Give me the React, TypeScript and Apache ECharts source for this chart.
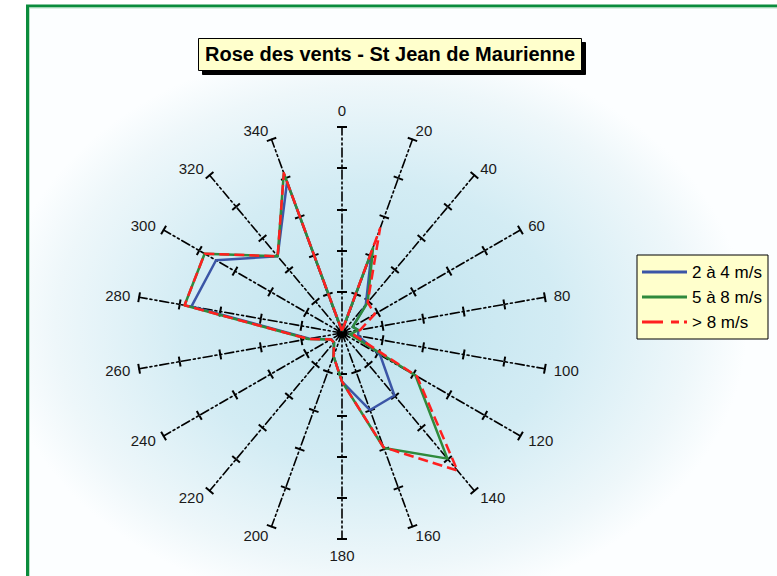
import React, { useEffect, useRef } from "react";
import * as echarts from "echarts";

// Wind directions in degrees, clockwise from north
const directions = [0, 20, 40, 60, 80, 100, 120, 140, 160, 180, 200, 220, 240, 260, 280, 300, 320, 340];
const seriesNames = ["2 à 4 m/s", "5 à 8 m/s", "> 8 m/s"];

// Frequencies per direction (same order as directions)
const speed2to4 = [0.05, 2.1, 0.9, 0.3, 0.4, 0.4, 1.07, 1.98, 1.99, 1.18, 0.6, 0.3, 0.3, 0.8, 3.71, 3.53, 2.43, 3.9];
const speed5to8 = [0.05, 2.2, 0.97, 0.3, 0.4, 0.2, 2.06, 3.98, 2.97, 1.18, 0.6, 0.3, 0.31, 0.83, 3.88, 3.85, 2.43, 4.13];
const speedOver8 = [0.05, 2.7, 0.97, 0.92, 0.45, 0.3, 2.1, 4.36, 2.95, 1.18, 0.6, 0.3, 0.31, 0.83, 3.88, 3.85, 2.43, 4.13];

const radialMax = 5;
const seriesColors = ["#3b55a6", "#2f8a3c", "#ff1f1f"];

// ECharts lays radar indicators out counter-clockwise; reverse to get a clockwise compass
const toRadarOrder = <T,>(arr: T[]): T[] => [arr[0], ...arr.slice(1).reverse()];

export default function App() {
  const ref = useRef<HTMLDivElement>(null);

  useEffect(() => {
    if (!ref.current) return;
    const chart = echarts.init(ref.current, null, { renderer: "svg" });

    const indicator = toRadarOrder(directions).map((d) => ({ name: String(d), min: 0, max: radialMax }));
    const axisLineStyle = { color: "#000", width: 1.6, type: [9, 3, 2, 3, 2, 3] as number[] };
    const tickStyle = { color: "#000", width: 2 };
    const baseRadar = {
      center: [342, 333],
      radius: 206,
      startAngle: 90,
      splitNumber: 5,
      indicator,
      splitLine: { show: false },
      splitArea: { show: false },
      axisLabel: { show: false },
    };

    const valueSets = [speed2to4, speed5to8, speedOver8];
    const lineTypes: any[] = ["solid", "solid", [10, 5]];

    const option: any = {
      animation: false,
      color: seriesColors,
      title: {
        text: "Rose des vents - St Jean de Maurienne",
        left: 198,
        top: 38,
        padding: [6, 7, 7, 7],
        backgroundColor: "#ffffcc",
        borderColor: "#000",
        borderWidth: 1,
        shadowColor: "#000",
        shadowOffsetX: 4,
        shadowOffsetY: 4,
        shadowBlur: 0,
        textStyle: { fontSize: 20, fontWeight: "bold", fontFamily: "Arial, 'Liberation Sans'", color: "#000" },
      },
      legend: {
        left: 637,
        top: 255,
        orient: "vertical",
        backgroundColor: "#ffffcc",
        borderColor: "#000",
        borderWidth: 1,
        padding: [8, 2, 8, 5],
        itemWidth: 45,
        itemHeight: 3,
        itemGap: 7,
        itemStyle: { borderWidth: 0 },
        textStyle: { fontSize: 17, lineHeight: 18, width: 74, fontFamily: "Arial, 'Liberation Sans'", color: "#000" },
        data: [
          { name: seriesNames[0], icon: "rect" },
          { name: seriesNames[1], icon: "rect" },
          { name: seriesNames[2], icon: "path://M0,0h21v3h-21zM29,0h8v3h-8zM42,0h3v3h-3z" },
        ],
      },
      graphic: [
        {
          type: "rect",
          z: -10,
          silent: true,
          shape: { x: 29, y: 8, width: 748, height: 568 },
          style: {
            fill: {
              type: "radial",
              x: 0.46,
              y: 0.56,
              r: 0.5,
              colorStops: [
                { offset: 0, color: "#bfe3ee" },
                { offset: 0.5, color: "#d3ecf4" },
                { offset: 0.85, color: "#eef7fa" },
                { offset: 1, color: "#fcfeff" },
              ],
            },
          },
        },
        {
          type: "rect",
          z: 100,
          silent: true,
          shape: { x: 27.5, y: 6, width: 800, height: 600 },
          style: { fill: "none", stroke: "#0b8c3c", lineWidth: 3 },
        },
        {
          type: "rect",
          z: 100,
          silent: true,
          shape: { x: 29.5, y: 8, width: 800, height: 600 },
          style: { fill: "none", stroke: "#b9e2c6", lineWidth: 1 },
        },
      ],
      radar: [
        {
          ...baseRadar,
          axisName: { color: "#1a1a1a", fontSize: 15, fontFamily: "Arial, 'Liberation Sans'" },
          axisNameGap: 9,
          axisLine: { lineStyle: axisLineStyle },
          axisTick: { show: true, length: 5, lineStyle: tickStyle },
        },
        {
          // second set of ticks on the other side so each tick crosses its spoke
          ...baseRadar,
          axisName: { show: false },
          axisLine: { show: false },
          axisTick: { show: true, length: -5, lineStyle: tickStyle },
        },
      ],
      series: valueSets.map((vals, i) => ({
        type: "radar",
        name: seriesNames[i],
        radarIndex: 0,
        symbol: "none",
        z: 3 + i,
        itemStyle: { color: seriesColors[i] },
        lineStyle: { color: seriesColors[i], width: 2.5, type: lineTypes[i] },
        data: [
          {
            name: seriesNames[i],
            value: toRadarOrder(vals),
            itemStyle: { color: seriesColors[i] },
            lineStyle: { color: seriesColors[i], width: 2.5, type: lineTypes[i] },
          },
        ],
      })),
    };

    chart.setOption(option);
    return () => chart.dispose();
  }, []);

  return <div ref={ref} style={{ position: "absolute", left: 0, top: 0, width: 777, height: 576 }} />;
}
